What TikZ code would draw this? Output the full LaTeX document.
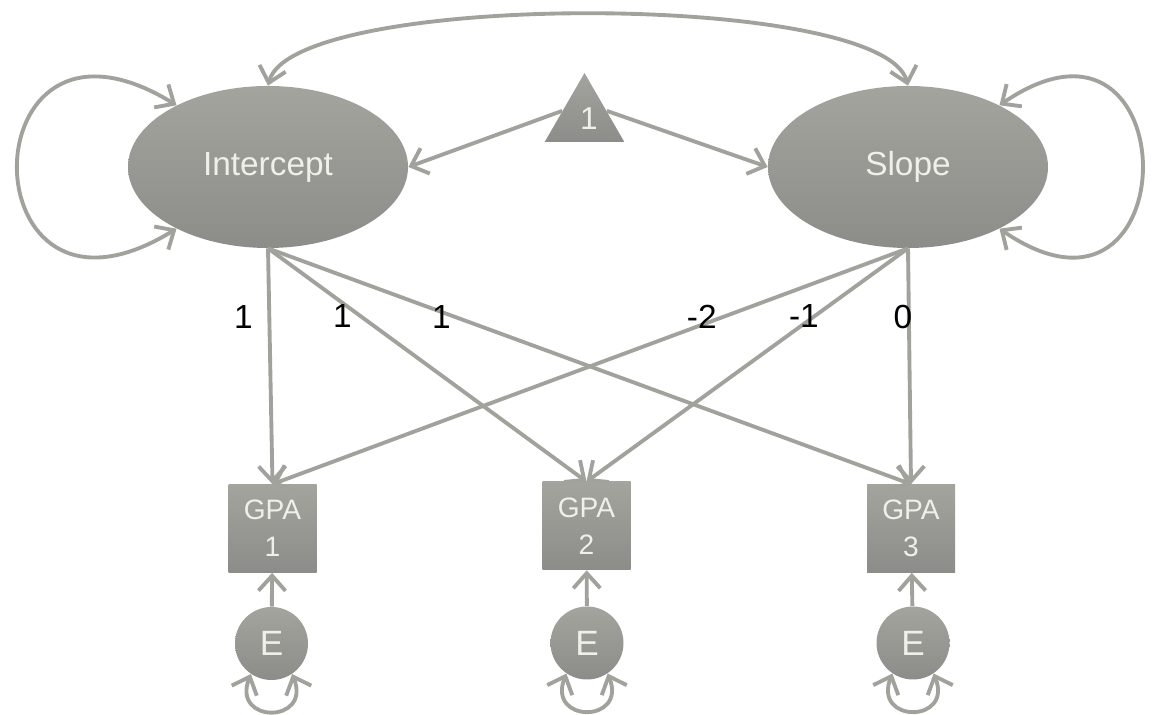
\documentclass[tikz,border=0pt]{standalone}
\usepackage{fontspec}
\setsansfont{Liberation Sans}
\usetikzlibrary{shapes.geometric,arrows.meta}
\definecolor{semlight}{RGB}{164,164,159}
\definecolor{semdark}{RGB}{140,140,136}
\definecolor{semline}{RGB}{162,162,157}
\definecolor{semtext}{RGB}{240,240,234}

\begin{document}
\begin{tikzpicture}[
    >={Straight Barb[length=3mm,width=5.4mm]},
    fillgray/.style={top color=semlight, bottom color=semdark, text=semtext},
    latent/.style={ellipse, fillgray, minimum width=5.6cm, minimum height=3.24cm, font=\sffamily\fontsize{19}{22}\selectfont},
    observed/.style={rectangle, fillgray, minimum width=1.76cm, minimum height=1.76cm, align=center, font=\sffamily\fontsize{16}{21}\selectfont},
    resid/.style={circle, fillgray, minimum size=1.46cm, inner sep=0pt, font=\sffamily\fontsize{20}{22}\selectfont},
    const/.style={regular polygon, regular polygon sides=3, fillgray, minimum size=1.84cm, inner sep=0pt, font=\sffamily\fontsize{18}{20}\selectfont},
    arr/.style={draw=semline, line width=2.2pt, ->},
    cov/.style={draw=semline, line width=2.2pt, <->},
    lbl/.style={font=\sffamily\fontsize{19}{22}\selectfont, text=black}
]
    \useasboundingbox (0,0) rectangle (23.04,14.3);

    % growth factors and the constant
    \node[latent] (int) at (5.36,10.96) {Intercept};
    \node[latent] (slp) at (18.16,10.96) {Slope};
    \node[const] (one) at (11.69,11.92) {\hspace{5pt}1};

    % measured GPA and residuals
    \node[observed] (gpa1) at (5.45,3.73) {GPA\\1};
    \node[observed] (gpa2) at (11.73,3.78) {GPA\\2};
    \node[observed] (gpa3) at (18.22,3.73) {GPA\\3};
    \node[resid] (e1) at (5.43,1.43) {E};
    \node[resid] (e2) at (11.74,1.44) {E};
    \node[resid] (e3) at (18.26,1.44) {E};

    % variances and covariance
    \draw[cov] (int.north) .. controls +(0.5,1.9) and +(-0.5,1.9) .. (slp.north);
    \draw[cov] (int.146) .. controls +(-4.23,2.6) and +(-4.23,-2.6) .. (int.214);
    \draw[cov] (slp.34) .. controls +(3.8,2.6) and +(3.8,-2.6) .. (slp.-34);

    % means
    \draw[arr] (one.160) -- (int.east);
    \draw[arr] (one.20) -- (slp.west);

    % loadings
    \draw[arr] (int.south) -- (gpa1.north) node[lbl, pos=0.29, xshift=-14.7pt] {1};
    \draw[arr] (int.south) -- (gpa2.north) node[lbl, pos=0.29, xshift=-10.2pt] {1};
    \draw[arr] (int.south) -- (gpa3.north) node[lbl, pos=0.29, xshift=-7.4pt] {1};
    \draw[arr] (slp.south) -- (gpa1.north) node[lbl, pos=0.29, xshift=-12.5pt] {-2};
    \draw[arr] (slp.south) -- (gpa2.north) node[lbl, pos=0.29, xshift=-6.2pt] {-1};
    \draw[arr] (slp.south) -- (gpa3.north) node[lbl, pos=0.29, xshift=-3.4pt] {0};

    % residuals
    \draw[arr] (e1) -- (gpa1);
    \draw[arr] (e2) -- (gpa2);
    \draw[arr] (e3) -- (gpa3);
    \draw[cov] (e1.236) .. controls +(-0.4,-1.0) and +(0.4,-1.0) .. (e1.304);
    \draw[cov] (e2.236) .. controls +(-0.4,-1.0) and +(0.4,-1.0) .. (e2.304);
    \draw[cov] (e3.236) .. controls +(-0.4,-1.0) and +(0.4,-1.0) .. (e3.304);
\end{tikzpicture}
\end{document}
